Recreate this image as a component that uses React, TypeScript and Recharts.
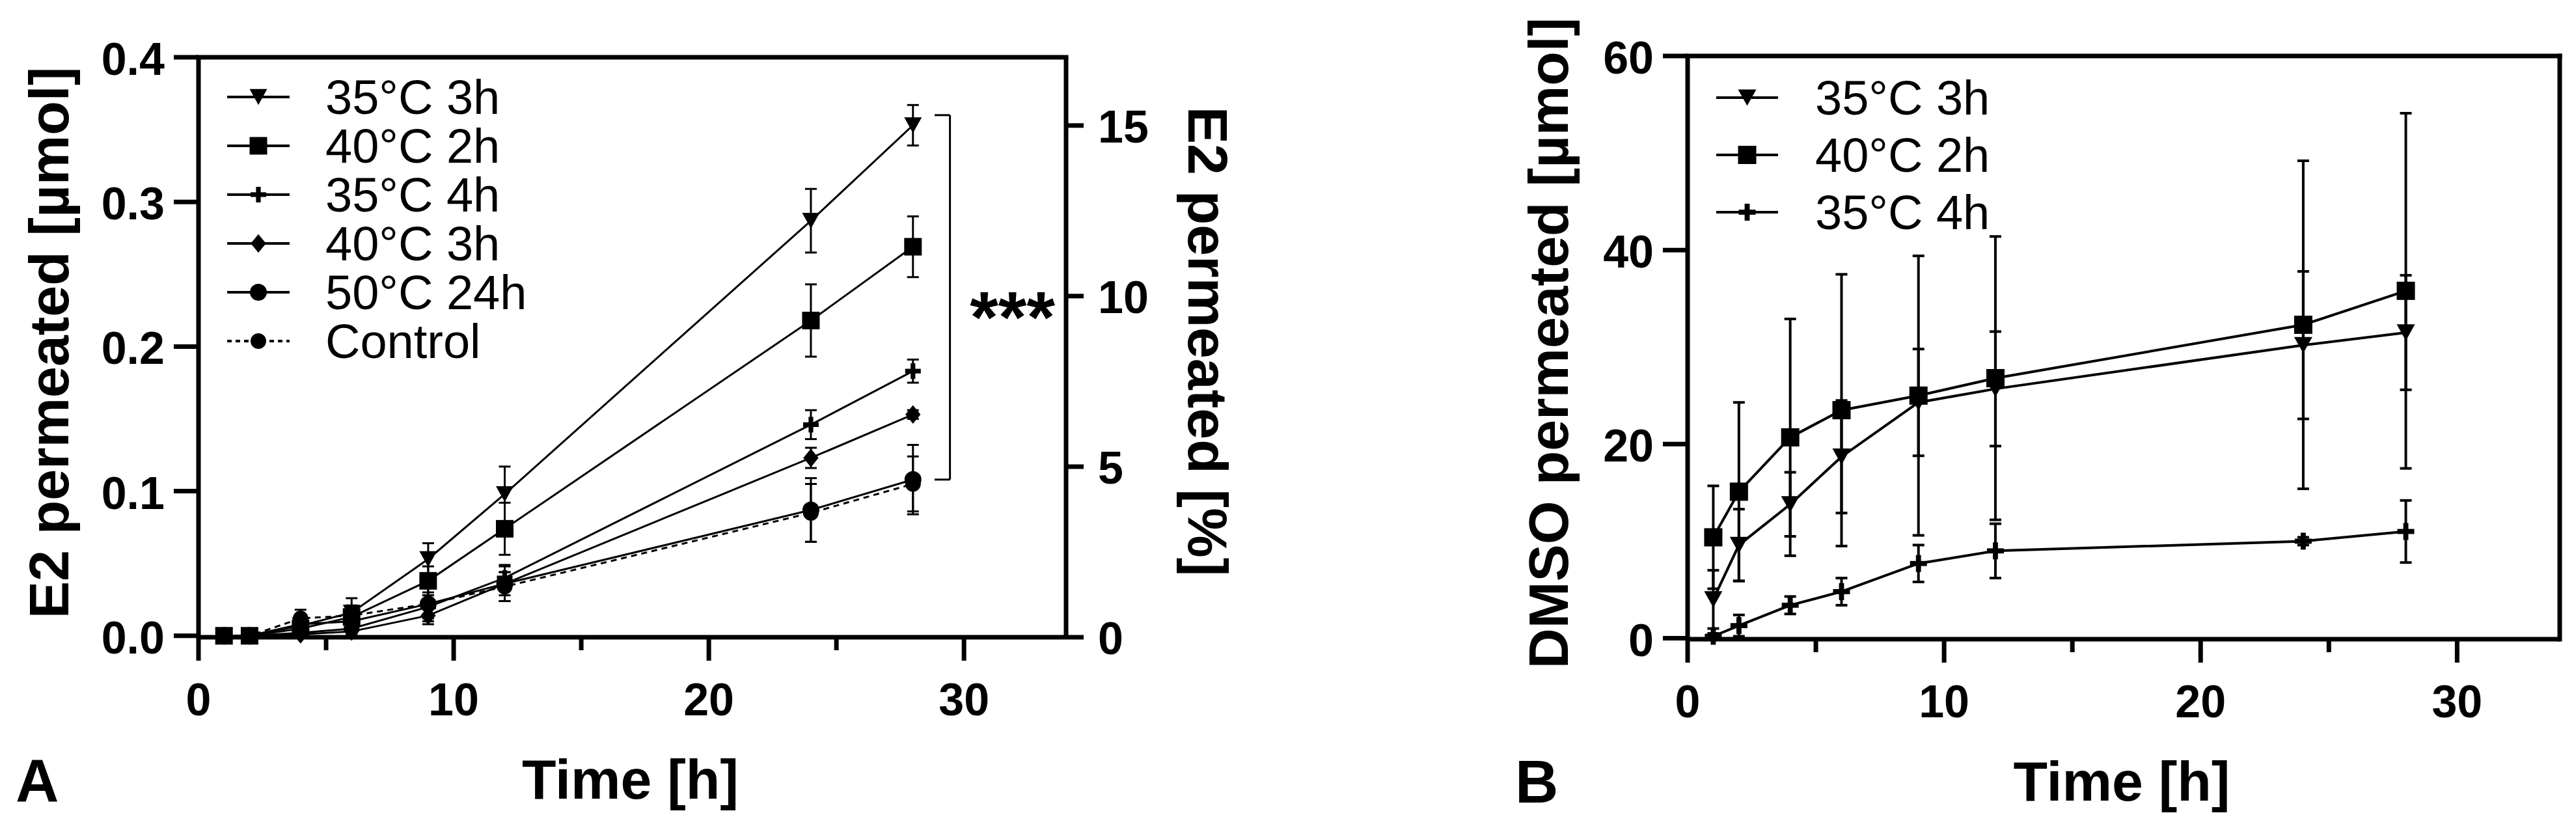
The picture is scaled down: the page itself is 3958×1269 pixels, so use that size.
import React from "react";
import {
  LineChart,
  Line,
  XAxis,
  YAxis,
  ErrorBar,
  ReferenceLine,
  ReferenceDot,
  Legend,
  Label,
} from "recharts";

const FONT = "'Liberation Sans', Arial, Helvetica, sans-serif";
const INK = "#000";

// sampling times [h], same for both panels
const hours = [1, 2, 4, 6, 9, 12, 24, 28];
const timeTicks = [0, 5, 10, 15, 20, 25, 30];

// Panel A: E2 permeated [µmol], mean and SD
const e2_35C3h = [0, 0, 0.007, 0.016, 0.053, 0.098, 0.287, 0.353];
const e2_35C3h_sd = [0, 0, 0.005, 0.01, 0.011, 0.019, 0.022, 0.014];
const e2_40C2h = [0, 0, 0.005, 0.013, 0.038, 0.074, 0.218, 0.269];
const e2_40C2h_sd = [0, 0, 0.004, 0.008, 0.01, 0.018, 0.025, 0.021];
const e2_35C4h = [0, 0, 0.002, 0.005, 0.02, 0.04, 0.146, 0.183];
const e2_35C4h_sd = [0, 0, 0.003, 0.004, 0.008, 0.009, 0.01, 0.008];
const e2_40C3h = [0, 0, 0.001, 0.003, 0.014, 0.036, 0.123, 0.153];
const e2_40C3h_sd = [0, 0, 0.002, 0.003, 0.006, 0.008, 0.007, 0.003];
const e2_50C24h = [0, 0, 0.008, 0.01, 0.022, 0.036, 0.087, 0.108];
const e2_50C24h_sd = [0, 0, 0.006, 0.008, 0.012, 0.012, 0.022, 0.024];
const e2_control = [0, 0, 0.012, 0.014, 0.022, 0.034, 0.085, 0.105];
const e2_control_sd = [0, 0, 0.006, 0.006, 0.008, 0.01, 0.02, 0.019];
const e2Ticks = [0, 0.1, 0.2, 0.3, 0.4];
const e2PctTicks = [0, 5, 10, 15];

// significance bracket next to the 28 h points
const bracketX = [28.85, 29.45];
const bracketY = [0.108, 0.36];
const starsX = 31.9;
const starsY = 0.231;

// Panel B: DMSO permeated [µmol], mean and SD
const dmso_35C3h = [4.0, 9.6, 13.8, 18.7, 24.3, 25.7, 30.2, 31.5];
const dmso_35C3h_sd = [3.0, 3.7, 3.3, 5.8, 5.5, 5.9, 7.6, 5.9];
const dmso_40C2h = [10.4, 15.1, 20.7, 23.5, 25.0, 26.8, 32.3, 35.8];
const dmso_40C2h_sd = [5.3, 9.2, 12.2, 14.0, 14.4, 14.6, 16.9, 18.3];
const dmso_35C4h = [0.2, 1.3, 3.4, 4.8, 7.7, 9.0, 10.0, 11.0];
const dmso_35C4h_sd = [0.3, 1.1, 0.9, 1.4, 1.9, 2.8, 0.4, 3.2];
const dmsoTicks = [0, 20, 40, 60];

type Shape = "tri" | "square" | "plus" | "diamond" | "circle";
type Series = {
  key: string;
  name: string;
  shape: Shape;
  size: number;
  mean: number[];
  sd: number[];
  dash?: string;
};

const seriesA: Series[] = [
  { key: "a1", name: "35°C 3h", shape: "tri", size: 27, mean: e2_35C3h, sd: e2_35C3h_sd },
  { key: "a2", name: "40°C 2h", shape: "square", size: 27, mean: e2_40C2h, sd: e2_40C2h_sd },
  { key: "a3", name: "35°C 4h", shape: "plus", size: 24, mean: e2_35C4h, sd: e2_35C4h_sd },
  { key: "a4", name: "40°C 3h", shape: "diamond", size: 26, mean: e2_40C3h, sd: e2_40C3h_sd },
  { key: "a5", name: "50°C 24h", shape: "circle", size: 26, mean: e2_50C24h, sd: e2_50C24h_sd },
  { key: "a6", name: "Control", shape: "circle", size: 24, mean: e2_control, sd: e2_control_sd, dash: "9 7" },
];

const seriesB: Series[] = [
  { key: "b1", name: "35°C 3h", shape: "tri", size: 28, mean: dmso_35C3h, sd: dmso_35C3h_sd },
  { key: "b2", name: "40°C 2h", shape: "square", size: 28, mean: dmso_40C2h, sd: dmso_40C2h_sd },
  { key: "b3", name: "35°C 4h", shape: "plus", size: 26, mean: dmso_35C4h, sd: dmso_35C4h_sd },
];

function toRows(series: Series[]) {
  return hours.map((t, i) => {
    const row: Record<string, number> = { t };
    series.forEach((s) => {
      row[s.key] = s.mean[i];
      row[s.key + "sd"] = s.sd[i];
    });
    return row;
  });
}

const rowsA = toRows(seriesA);
const rowsB = toRows(seriesB);

function Marker({ shape, cx, cy, s }: { shape: Shape; cx: number; cy: number; s: number }) {
  if (cx == null || cy == null) return null;
  switch (shape) {
    case "tri":
      return (
        <polygon
          points={`${cx - s / 2},${cy - s * 0.45} ${cx + s / 2},${cy - s * 0.45} ${cx},${cy + s * 0.45}`}
          fill={INK}
        />
      );
    case "square":
      return <rect x={cx - s / 2} y={cy - s / 2} width={s} height={s} fill={INK} />;
    case "diamond":
      return (
        <polygon
          points={`${cx},${cy - s * 0.55} ${cx + s * 0.45},${cy} ${cx},${cy + s * 0.55} ${cx - s * 0.45},${cy}`}
          fill={INK}
        />
      );
    case "circle":
      return <circle cx={cx} cy={cy} r={s / 2} fill={INK} />;
    case "plus":
      return (
        <g fill={INK}>
          <rect x={cx - s / 2} y={cy - s * 0.15} width={s} height={s * 0.3} />
          <rect x={cx - s * 0.15} y={cy - s / 2} width={s * 0.3} height={s} />
        </g>
      );
  }
  return null;
}

const dotFor = (s: Series) => (p: any) =>
  <Marker key={`${s.key}-${p.index}`} shape={s.shape} cx={p.cx} cy={p.cy} s={s.size} />;

const axisStyle = { stroke: INK, strokeWidth: 7 };

function BottomTick(p: any) {
  const { x, y, payload } = p;
  const v = payload.value;
  const major = v % 10 === 0;
  return (
    <g>
      <line x1={x} x2={x} y1={y} y2={y + (major ? 36 : 20)} stroke={INK} strokeWidth={7} />
      {major && (
        <text x={x} y={y + 120} textAnchor="middle" fontFamily={FONT} fontWeight="bold" fontSize={70} fill={INK}>
          {v}
        </text>
      )}
    </g>
  );
}

const leftTick = (fmt: (v: number) => string) => (p: any) => {
  const { x, y, payload } = p;
  return (
    <g>
      <line x1={x - 38} x2={x} y1={y} y2={y} stroke={INK} strokeWidth={7} />
      <text x={x - 52} y={y + 27} textAnchor="end" fontFamily={FONT} fontWeight="bold" fontSize={70} fill={INK}>
        {fmt(payload.value)}
      </text>
    </g>
  );
};

function RightTick(p: any) {
  const { x, y, payload } = p;
  return (
    <g>
      <line x1={x} x2={x + 27} y1={y} y2={y} stroke={INK} strokeWidth={7} />
      <text x={x + 49} y={y + 26} textAnchor="start" fontFamily={FONT} fontWeight="bold" fontSize={70} fill={INK}>
        {payload.value}
      </text>
    </g>
  );
}

const titleProps = { fontFamily: FONT, fontWeight: "bold" as const, fontSize: 86, fill: INK };

const xTitle = (p: any) => {
  const vb = p.viewBox;
  return (
    <text x={vb.x + vb.width / 2 - 3} y={vb.y + 248} textAnchor="middle" {...titleProps}>
      Time [h]
    </text>
  );
};

const yTitleLeft = (text: string, gap: number) => (p: any) => {
  const vb = p.viewBox;
  const x = vb.x + vb.width - gap;
  const y = vb.y + vb.height / 2 - 7;
  return (
    <text transform={`translate(${x},${y}) rotate(-90)`} textAnchor="middle" {...titleProps}>
      {text}
    </text>
  );
};

const yTitleRight = (text: string) => (p: any) => {
  const vb = p.viewBox;
  const x = vb.x + 188;
  const y = vb.y + vb.height / 2 - 9;
  return (
    <text transform={`translate(${x},${y}) rotate(90)`} textAnchor="middle" {...titleProps}>
      {text}
    </text>
  );
};

function LegendRows({
  series,
  first,
  gap,
  lineX,
  textX,
}: {
  series: Series[];
  first: number;
  gap: number;
  lineX: [number, number];
  textX: number;
}) {
  const h = first * 2 + gap * (series.length - 1);
  return (
    <svg width={560} height={h} style={{ display: "block", overflow: "visible" }}>
      {series.map((s, i) => {
        const cy = first + i * gap;
        const mid = (lineX[0] + lineX[1]) / 2;
        return (
          <g key={s.key}>
            <line
              x1={lineX[0]}
              x2={lineX[1]}
              y1={cy}
              y2={cy}
              stroke={INK}
              strokeWidth={4}
              strokeDasharray={s.dash ? "7 6" : undefined}
            />
            <Marker shape={s.shape} cx={mid} cy={cy} s={s.size} />
            <text x={textX} y={cy + 26} fontFamily={FONT} fontSize={74} fill={INK}>
              {s.name}
            </text>
          </g>
        );
      })}
    </svg>
  );
}

function renderSeries(series: Series[], yAxisId: string, width: number) {
  return series.map((s) => (
    <Line
      key={s.key}
      yAxisId={yAxisId}
      dataKey={s.key}
      name={s.name}
      type="linear"
      stroke={INK}
      strokeWidth={width}
      strokeDasharray={s.dash}
      dot={dotFor(s)}
      activeDot={false}
      isAnimationActive={false}
    >
      <ErrorBar dataKey={s.key + "sd"} direction="y" width={9} stroke={INK} strokeWidth={width} />
    </Line>
  ));
}

function PanelA() {
  return (
    <LineChart width={1980} height={1269} data={rowsA} margin={{ top: 88, right: 42, bottom: 10, left: 5 }}>
      <XAxis
        dataKey="t"
        type="number"
        domain={[0, 34]}
        ticks={timeTicks}
        interval={0}
        height={280}
        tickSize={0}
        tickMargin={0}
        tickLine={false}
        axisLine={axisStyle}
        tick={(p: any) => <BottomTick {...p} />}
      >
        <Label content={xTitle} />
      </XAxis>
      <YAxis
        yAxisId="l"
        type="number"
        domain={[0, 0.4]}
        ticks={e2Ticks}
        interval={0}
        width={300}
        tickSize={0}
        tickMargin={0}
        tickLine={false}
        axisLine={axisStyle}
        tick={leftTick((v) => v.toFixed(1))}
      >
        <Label content={yTitleLeft("E2 permeated [µmol]", 200)} />
      </YAxis>
      <YAxis
        yAxisId="r"
        orientation="right"
        type="number"
        domain={[0, 17]}
        allowDataOverflow
        ticks={e2PctTicks}
        interval={0}
        width={300}
        tickSize={0}
        tickMargin={0}
        tickLine={false}
        axisLine={axisStyle}
        tick={(p: any) => <RightTick {...p} />}
      >
        <Label content={yTitleRight("E2 permeated [%]")} />
      </YAxis>
      <ReferenceLine yAxisId="l" y={0.4} stroke={INK} strokeWidth={7} strokeLinecap="square" />
      <ReferenceLine
        yAxisId="l"
        segment={[
          { x: bracketX[0], y: bracketY[1] },
          { x: bracketX[1], y: bracketY[1] },
        ]}
        stroke={INK}
        strokeWidth={3}
      />
      <ReferenceLine
        yAxisId="l"
        segment={[
          { x: bracketX[1], y: bracketY[1] },
          { x: bracketX[1], y: bracketY[0] },
        ]}
        stroke={INK}
        strokeWidth={3}
      />
      <ReferenceLine
        yAxisId="l"
        segment={[
          { x: bracketX[0], y: bracketY[0] },
          { x: bracketX[1], y: bracketY[0] },
        ]}
        stroke={INK}
        strokeWidth={3}
      />
      <ReferenceDot
        yAxisId="l"
        x={starsX}
        y={starsY}
        r={0}
        fill="none"
        stroke="none"
        label={(p: any) => {
          const vb = p.viewBox;
          return (
            <text
              x={vb.x + vb.width / 2}
              y={vb.y + vb.height / 2 + 62}
              textAnchor="middle"
              fontFamily={FONT}
              fontWeight="bold"
              fontSize={112}
              fill={INK}
            >
              ***
            </text>
          );
        }}
      />
      {renderSeries(seriesA, "l", 3)}
      <Legend
        layout="vertical"
        align="center"
        verticalAlign="middle"
        wrapperStyle={{ left: 330, top: 100, width: 560, height: 470 }}
        content={() => <LegendRows series={seriesA} first={49} gap={75} lineX={[19, 115]} textX={170} />}
      />
    </LineChart>
  );
}

function PanelB() {
  return (
    <LineChart width={1658} height={1269} data={rowsB} margin={{ top: 86, right: 25, bottom: 7, left: 3 }}>
      <XAxis
        dataKey="t"
        type="number"
        domain={[0, 34]}
        ticks={timeTicks}
        interval={0}
        height={280}
        tickSize={0}
        tickMargin={0}
        tickLine={false}
        axisLine={axisStyle}
        tick={(p: any) => <BottomTick {...p} />}
      >
        <Label content={xTitle} />
      </XAxis>
      <YAxis
        yAxisId="l"
        type="number"
        domain={[0, 60]}
        ticks={dmsoTicks}
        interval={0}
        width={290}
        tickSize={0}
        tickMargin={0}
        tickLine={false}
        axisLine={axisStyle}
        tick={leftTick((v) => String(v))}
      >
        <Label content={yTitleLeft("DMSO permeated [µmol]", 184)} />
      </YAxis>
      <ReferenceLine yAxisId="l" y={60} stroke={INK} strokeWidth={7} strokeLinecap="square" />
      <ReferenceLine yAxisId="l" x={34} stroke={INK} strokeWidth={7} strokeLinecap="square" />
      {renderSeries(seriesB, "l", 4)}
      <Legend
        layout="vertical"
        align="center"
        verticalAlign="middle"
        wrapperStyle={{ left: 300, top: 100, width: 560, height: 280 }}
        content={() => <LegendRows series={seriesB} first={50} gap={88} lineX={[37, 132]} textX={189} />}
      />
    </LineChart>
  );
}

export default function App() {
  return (
    <div style={{ position: "absolute", left: 0, top: 0, width: 3958, height: 1269, background: "#fff" }}>
      <div style={{ position: "absolute", left: 0, top: 0 }}>
        <PanelA />
      </div>
      <div style={{ position: "absolute", left: 2300, top: 0 }}>
        <PanelB />
      </div>
      <svg
        width={3958}
        height={1269}
        style={{ position: "absolute", left: 0, top: 0, pointerEvents: "none" }}
      >
        <text x={24} y={1231} fontFamily={FONT} fontWeight="bold" fontSize={92} fill={INK}>
          A
        </text>
        <text x={2328} y={1233} fontFamily={FONT} fontWeight="bold" fontSize={92} fill={INK}>
          B
        </text>
      </svg>
    </div>
  );
}
